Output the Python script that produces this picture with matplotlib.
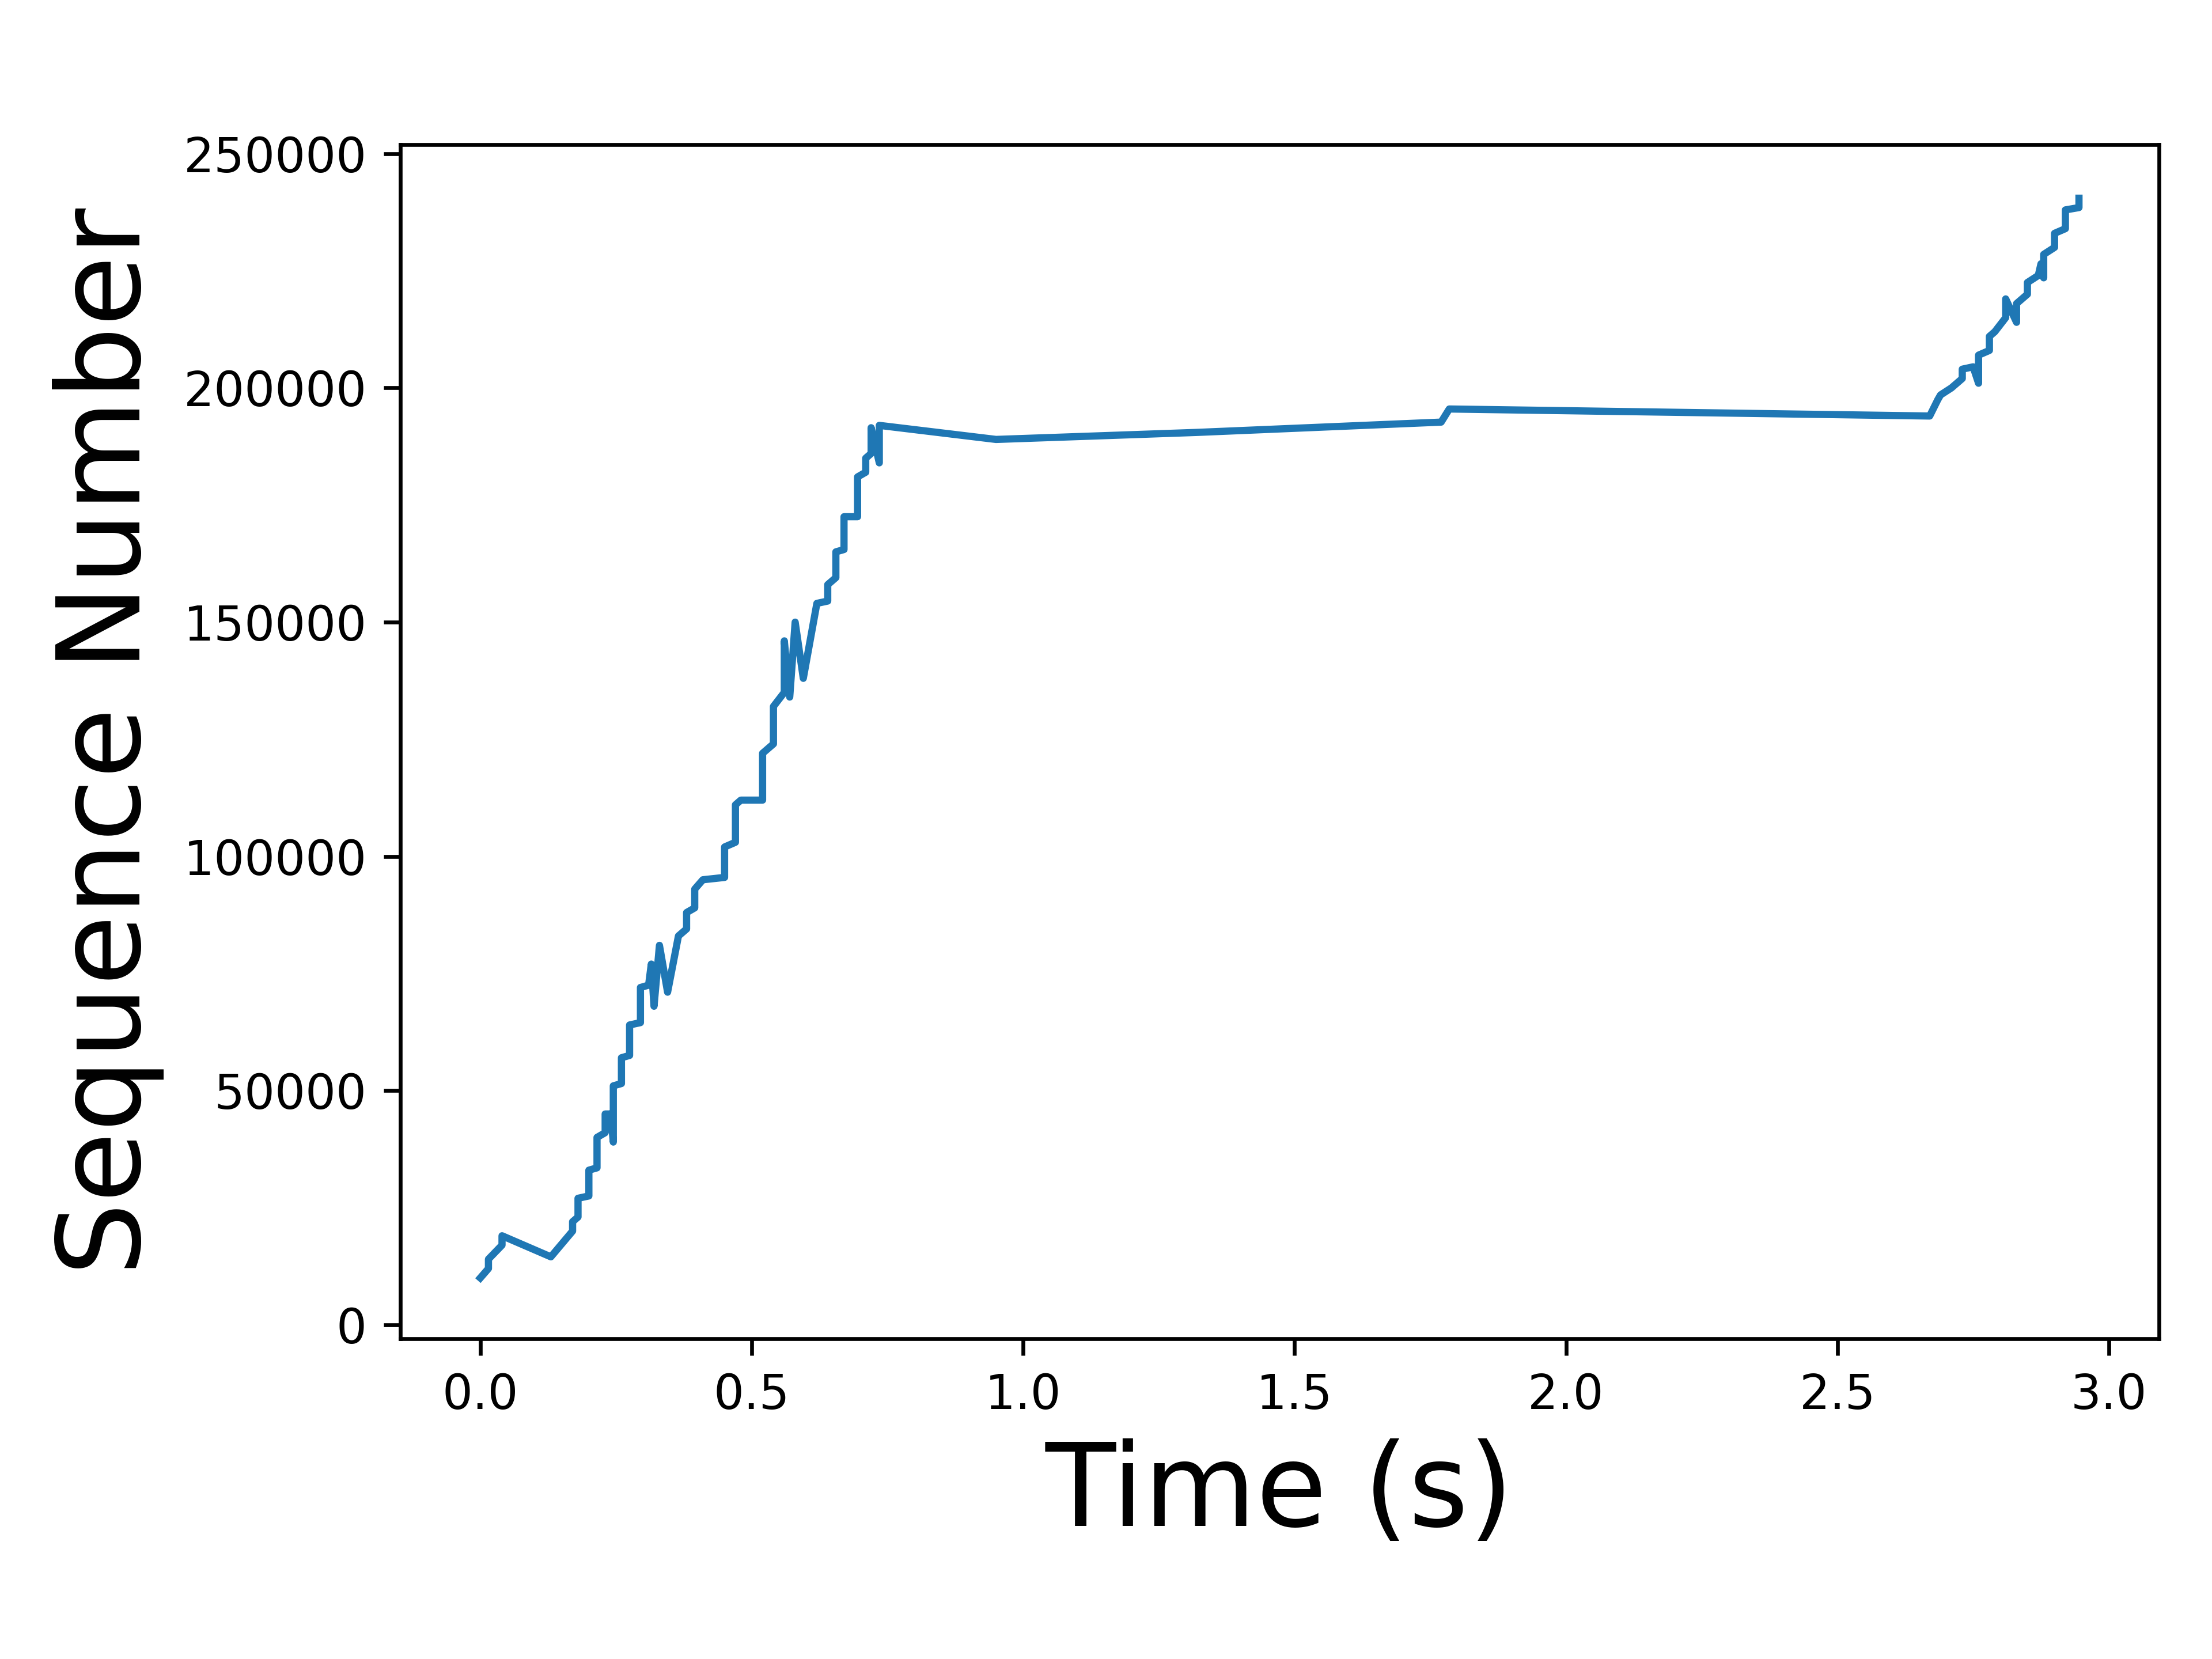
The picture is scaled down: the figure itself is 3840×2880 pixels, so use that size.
import matplotlib
matplotlib.use("Agg")
import matplotlib.pyplot as plt

times = [0.0, 0.015, 0.015, 0.04, 0.04, 0.13, 0.17, 0.17, 0.18, 0.18, 0.2, 0.2, 0.215, 0.215,
         0.23, 0.23, 0.24, 0.245, 0.245, 0.26, 0.26, 0.275, 0.275, 0.295, 0.295, 0.31, 0.315,
         0.32, 0.33, 0.345, 0.365, 0.38, 0.38, 0.395, 0.395, 0.41, 0.45, 0.45, 0.47, 0.47, 0.48,
         0.52, 0.52, 0.54, 0.54, 0.56, 0.56, 0.57, 0.58, 0.595, 0.62, 0.64, 0.64, 0.655, 0.655,
         0.67, 0.67, 0.695, 0.695, 0.71, 0.71, 0.72, 0.72, 0.735, 0.735, 0.95, 1.32, 1.77, 1.785,
         2.67, 2.685, 2.69, 2.71, 2.73, 2.73, 2.75, 2.76, 2.76, 2.78, 2.78, 2.79, 2.81, 2.81,
         2.83, 2.83, 2.85, 2.85, 2.87, 2.875, 2.88, 2.88, 2.9, 2.9, 2.92, 2.92, 2.945, 2.945]
seqs = [10000, 12000, 14000, 17000, 19000, 14500, 20000, 22000, 23000, 27000, 27500, 33000,
        33500, 40000, 41000, 45000, 45000, 39000, 51000, 51500, 57000, 57500, 64000, 64500,
        72000, 72500, 77000, 68000, 81000, 71000, 83000, 84500, 88000, 89000, 93000, 95000,
        95500, 102000, 103000, 111000, 112000, 112000, 122000, 124000, 132000, 135000, 146000,
        134000, 150000, 138000, 154000, 154500, 158000, 159500, 165000, 165500, 172500, 172500,
        181000, 182000, 185000, 186000, 191500, 184000, 192000, 189000, 190500, 192700, 195500,
        194000, 197500, 198500, 200000, 202000, 204000, 204500, 201000, 207000, 208000, 211000,
        212000, 215000, 219000, 214000, 218000, 220000, 222500, 224000, 226500, 223500, 228500,
        230000, 233000, 234000, 238000, 238500, 240500]

fig = plt.figure(figsize=(6.4, 4.8), dpi=600)
ax = fig.add_axes([0.181, 0.193, 0.795, 0.72])
ax.plot(times, seqs, color='#1f77b4', linewidth=1.5)
ax.set_ylim(-3000, 252000)
ax.set_xlabel("Time (s)", fontsize=24)
ax.set_ylabel("Sequence Number", fontsize=24)
fig.savefig("out.png", dpi=600)
